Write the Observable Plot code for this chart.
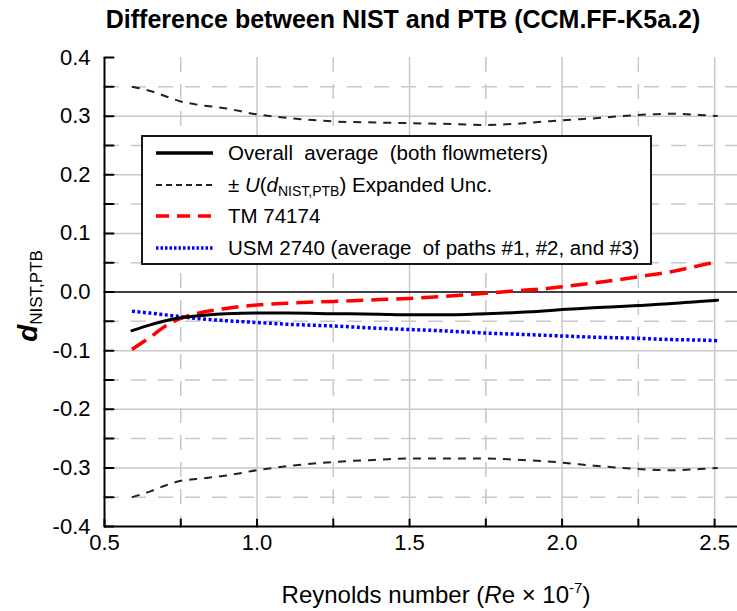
<!DOCTYPE html>
<html><head><meta charset="utf-8">
<script src="https://cdn.jsdelivr.net/npm/d3@7"></script>
<script src="https://cdn.jsdelivr.net/npm/@observablehq/plot@0.6"></script>
<style>body{margin:0;background:#fff;} svg{display:block;}</style>
</head><body><div id="chart"></div>
<script>
// Reynolds number (Re × 10^-7) sample positions
const reynolds   = [0.59, 0.65, 0.70, 0.75, 0.80, 0.90, 1.00, 1.10, 1.25, 1.40, 1.50, 1.60, 1.75, 1.85, 1.95, 2.00, 2.10, 2.25, 2.35, 2.45, 2.51];
const overallAvg = [-0.066,-0.056,-0.049,-0.044,-0.041,-0.037,-0.036,-0.036,-0.037,-0.038,-0.039,-0.039,-0.037,-0.035,-0.032,-0.030,-0.027,-0.023,-0.020,-0.016,-0.014];
const tm74174    = [-0.098,-0.077,-0.058,-0.045,-0.037,-0.028,-0.022,-0.019,-0.016,-0.013,-0.011,-0.008,-0.002,0.002,0.006,0.009,0.015,0.026,0.034,0.045,0.052];
const usm2740    = [-0.033,-0.036,-0.039,-0.042,-0.045,-0.049,-0.052,-0.055,-0.058,-0.062,-0.064,-0.066,-0.070,-0.072,-0.074,-0.075,-0.077,-0.079,-0.081,-0.082,-0.083];
const uncUpper   = [0.350,0.343,0.334,0.325,0.320,0.313,0.303,0.297,0.291,0.289,0.288,0.287,0.285,0.287,0.291,0.293,0.296,0.302,0.304,0.302,0.300];
const uncLower   = [-0.350,-0.340,-0.330,-0.322,-0.319,-0.313,-0.304,-0.297,-0.290,-0.286,-0.284,-0.284,-0.284,-0.286,-0.289,-0.291,-0.296,-0.302,-0.304,-0.302,-0.300];

const xTickLabels = [0.5, 1.0, 1.5, 2.0, 2.5];
const xMinorTicks = [0.5, 0.75, 1.0, 1.25, 1.5, 1.75, 2.0, 2.25, 2.5];
const xGridMajor  = [1.0, 1.5, 2.0, 2.5];
const xGridMinor  = [0.75, 1.25, 1.75, 2.25];
const yTickLabels = [-0.4, -0.3, -0.2, -0.1, 0.0, 0.1, 0.2, 0.3, 0.4];
const yMinorTicks = [-0.4,-0.35,-0.3,-0.25,-0.2,-0.15,-0.1,-0.05,0,0.05,0.1,0.15,0.2,0.25,0.3,0.35,0.4];
const yGridMajor  = [-0.3, -0.2, -0.1, 0.1, 0.2, 0.3];
const yGridMinor  = [-0.35, -0.25, -0.15, -0.05, 0.05, 0.15, 0.25, 0.35];

const legendLabels = ["Overall  average  (both flowmeters)", "± U(dNIST,PTB) Expanded Unc.", "TM 74174", "USM 2740 (average  of paths #1, #2, and #3)"];

const toRows = (ys) => reynolds.map((x, i) => ({x, y: ys[i]}));
const grid = "#c8c8c8";
const tickShape = {draw(ctx, l) { ctx.moveTo(0, 0); ctx.lineTo(0, -l); }};
const FONT = "'Liberation Sans', Arial, sans-serif";

const chart = Plot.plot({
  width: 737, height: 611,
  marginTop: 57, marginBottom: 85, marginLeft: 104, marginRight: 0,
  style: {fontFamily: FONT, background: "#fff", color: "#000", overflow: "visible"},
  x: {domain: [0.5, 2.575]},
  y: {domain: [-0.4, 0.4]},
  marks: [
    Plot.ruleY(yGridMinor, {stroke: grid, strokeWidth: 1.5, strokeDasharray: "15,12"}),
    Plot.ruleY(yGridMajor, {stroke: grid, strokeWidth: 1.5}),
    Plot.ruleX(xGridMinor, {stroke: grid, strokeWidth: 1.5, strokeDasharray: "15,12"}),
    Plot.ruleX(xGridMajor, {stroke: grid, strokeWidth: 1.5}),
    Plot.ruleY([0], {stroke: "#000", strokeWidth: 1.5}),
    Plot.line(toRows(uncUpper), {x: "x", y: "y", stroke: "#222", strokeWidth: 2, strokeDasharray: "8,7", strokeLinecap: "butt", curve: "monotone-x"}),
    Plot.line(toRows(uncLower), {x: "x", y: "y", stroke: "#222", strokeWidth: 2, strokeDasharray: "8,7", strokeLinecap: "butt", curve: "monotone-x"}),
    Plot.line(toRows(usm2740), {x: "x", y: "y", stroke: "#0000ff", strokeWidth: 3.5, strokeDasharray: "3,2.5", strokeLinecap: "butt", curve: "monotone-x"}),
    Plot.line(toRows(tm74174), {x: "x", y: "y", stroke: "#ff0000", strokeWidth: 3.5, strokeDasharray: "17,8", strokeLinecap: "butt", curve: "monotone-x"}),
    Plot.line(toRows(overallAvg), {x: "x", y: "y", stroke: "#000", strokeWidth: 3, curve: "monotone-x"}),
    Plot.ruleX([0.5], {stroke: "#000", strokeWidth: 2}),
    Plot.ruleY([-0.4], {stroke: "#000", strokeWidth: 2}),
    Plot.vector(xMinorTicks, {x: d => d, frameAnchor: "bottom", length: 7, anchor: "start", rotate: 0, shape: tickShape, stroke: "#000", strokeWidth: 2}),
    Plot.vector(yMinorTicks, {y: d => d, frameAnchor: "left", length: 9, anchor: "start", rotate: 90, shape: tickShape, stroke: "#000", strokeWidth: 2}),
    Plot.axisX(xTickLabels, {tickSize: 0, tickPadding: 8, fontSize: 22, tickFormat: d => d.toFixed(1), label: null, fill: "#000"}),
    Plot.axisY(yTickLabels, {tickSize: 0, tickPadding: 14, fontSize: 22, tickFormat: d => d.toFixed(1), label: null, fill: "#000"})
  ]
});
document.getElementById("chart").appendChild(chart);

const svg = d3.select(chart);
// Title
svg.append("text").attr("x", 403).attr("y", 28).attr("text-anchor", "middle")
  .attr("font-family", FONT).attr("font-weight", "bold").attr("font-size", 25).attr("fill", "#000")
  .text("Difference between NIST and PTB (CCM.FF-K5a.2)");
// X label
const xl = svg.append("text").attr("x", 436).attr("y", 603).attr("text-anchor", "middle")
  .attr("font-family", FONT).attr("font-size", 24).attr("fill", "#000");
xl.append("tspan").text("Reynolds number (");
xl.append("tspan").attr("font-style", "italic").text("R");
xl.append("tspan").text("e × 10");
xl.append("tspan").attr("font-size", 15).attr("dy", -10).text("-7");
xl.append("tspan").attr("dy", 10).text(")");
// Y label
const yl = svg.append("text").attr("transform", "translate(37,296) rotate(-90)").attr("text-anchor", "middle")
  .attr("font-family", FONT).attr("fill", "#000");
yl.append("tspan").attr("font-style", "italic").attr("font-weight", "bold").attr("font-size", 28).text("d");
yl.append("tspan").attr("font-size", 17).attr("dy", 5).text("NIST,PTB");

// Legend
const lg = svg.append("g").attr("font-family", FONT).attr("font-size", 20.5).attr("fill", "#000").attr("text-anchor", "start");
lg.append("rect").attr("x", 142).attr("y", 136).attr("width", 509).attr("height", 128)
  .attr("fill", "#fff").attr("stroke", "#000").attr("stroke-width", 1.8);
const rowY = [153, 185, 216, 248];
const styles = [
  {stroke: "#000", w: 3.5, dash: null},
  {stroke: "#222", w: 1.8, dash: "6,4"},
  {stroke: "#ff0000", w: 3.5, dash: "13,8"},
  {stroke: "#0000ff", w: 3.5, dash: "2.5,2"}
];
rowY.forEach((y, i) => {
  const s = styles[i];
  const ln = lg.append("line").attr("x1", 156).attr("x2", 213).attr("y1", y).attr("y2", y)
    .attr("stroke", s.stroke).attr("stroke-width", s.w);
  if (s.dash) ln.attr("stroke-dasharray", s.dash);
  const t = lg.append("text").attr("x", 228).attr("y", y + 7).attr("text-anchor", "start");
  if (i === 1) {
    t.append("tspan").text("± ");
    t.append("tspan").attr("font-style", "italic").text("U");
    t.append("tspan").text("(");
    t.append("tspan").attr("font-style", "italic").text("d");
    t.append("tspan").attr("font-size", 14).attr("dy", 4).text("NIST,PTB");
    t.append("tspan").attr("dy", -4).text(") Expanded Unc.");
  } else {
    t.text(legendLabels[i]).attr("xml:space", "preserve").style("white-space", "pre");
  }
});
</script>
</body></html>
